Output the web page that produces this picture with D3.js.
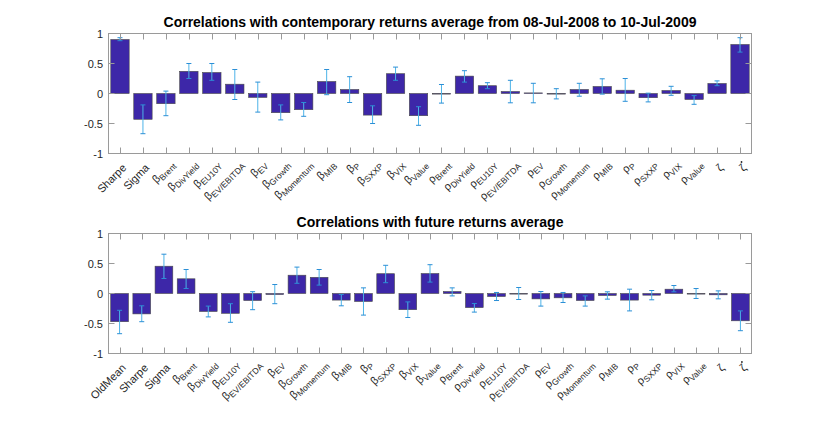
<!DOCTYPE html>
<html>
<head>
<meta charset="utf-8">
<script src="https://cdn.jsdelivr.net/npm/d3@7"></script>
<style>
  body { margin: 0; background: #fff; }
  text { font-family: "Liberation Sans", Arial, Helvetica, sans-serif; }
</style>
</head>
<body>
<svg id="chart" width="830" height="421"></svg>
<script>
"use strict";

// categories (a "_" splits symbol and subscript, a trailing "'" means a dot above)
var catsTop = ["Sharpe", "Sigma", "β_Brent", "β_DivYield", "β_EU10Y", "β_EV/EBITDA", "β_EV", "β_Growth",
  "β_Momentum", "β_MIB", "β_P", "β_SXXP", "β_VIX", "β_Value", "ρ_Brent", "ρ_DivYield", "ρ_EU10Y",
  "ρ_EV/EBITDA", "ρ_EV", "ρ_Growth", "ρ_Momentum", "ρ_MIB", "ρ_P", "ρ_SXXP", "ρ_VIX", "ρ_Value",
  "ζ", "ζ'"]
var catsBot = ["OldMean"].concat(catsTop)

// contemporary returns
var valsTop = [0.90, -0.43, -0.17, 0.37, 0.35, 0.155, -0.065, -0.32, -0.27, 0.20, 0.067, -0.36, 0.33, -0.37,
  -0.01, 0.29, 0.13, 0.033, 0.01, -0.005, 0.067, 0.117, 0.055, -0.07, 0.05, -0.10, 0.167, 0.817]
var loTop = [0.88, -0.67, -0.37, 0.25, 0.22, -0.10, -0.31, -0.44, -0.38, -0.02, -0.15, -0.50, 0.22, -0.53,
  -0.16, 0.19, 0.08, -0.155, -0.155, -0.09, -0.045, -0.01, -0.13, -0.14, -0.03, -0.18, 0.13, 0.69]
var hiTop = [0.93, -0.19, 0.04, 0.50, 0.50, 0.40, 0.19, -0.19, -0.15, 0.40, 0.28, -0.205, 0.44, -0.22,
  0.15, 0.38, 0.18, 0.22, 0.17, 0.08, 0.17, 0.245, 0.25, 0.005, 0.12, -0.035, 0.21, 0.93]

// future returns
var valsBot = [-0.47, -0.34, 0.455, 0.245, -0.30, -0.33, -0.117, -0.017, 0.305, 0.27, -0.11, -0.133, 0.33,
  -0.27, 0.333, 0.033, -0.235, -0.05, -0.005, -0.09, -0.072, -0.117, -0.033, -0.11, -0.028, 0.072, 0.0,
  -0.022, -0.455]
var loBot = [-0.67, -0.47, 0.25, 0.083, -0.39, -0.48, -0.27, -0.17, 0.17, 0.14, -0.205, -0.36, 0.18,
  -0.40, 0.19, -0.04, -0.31, -0.117, -0.10, -0.21, -0.15, -0.21, -0.094, -0.29, -0.105, 0.028, -0.083,
  -0.089, -0.62]
var hiBot = [-0.28, -0.205, 0.655, 0.40, -0.21, -0.17, 0.03, 0.15, 0.44, 0.40, -0.017, 0.094, 0.47,
  -0.14, 0.48, 0.094, -0.167, 0.017, 0.10, 0.033, 0.017, -0.04, 0.028, 0.072, 0.05, 0.133, 0.083,
  0.044, -0.29]

var yTicks = [-1, -0.5, 0, 0.5, 1]

var titleTop = "Correlations with contemporary returns average from 08-Jul-2008 to 10-Jul-2009"
var titleBot = "Correlations with future returns average"

var svg = d3.select("#chart")
var left = 108.5, right = 751.5, tickLen = 6
var axisColor = "#9a9a9a", textColor = "#262626"

/**
 * Writes one rotated category label, symbol + subscript, ending at the tick
 */
function catLabel(g, label, px, py) {
  var dot = label.endsWith("'")
  if (dot) label = label.slice(0, -1)
  var parts = label.split("_")
  if (parts.length > 1) { px += 2.5; py -= 3.5 } // TeX labels sit a bit further out
  var lg = g.append("g").attr("transform", "translate(" + px + "," + py + ") rotate(-45)")

  var main = lg.append("text").attr("font-size", 11).attr("fill", textColor).text(parts[0])
  var w1 = main.node().getComputedTextLength()
  var w2 = 0, sub = null
  if (parts.length > 1) {
    sub = lg.append("text").attr("font-size", 8.5).attr("fill", textColor).attr("y", 2.5).text(parts[1])
    w2 = sub.node().getComputedTextLength()
  }
  main.attr("x", -(w1 + w2))
  if (sub) sub.attr("x", -w2)
  if (dot) {
    // dot above the zeta, upright
    g.append("circle").attr("cx", px - 5.5).attr("cy", py - 6.5).attr("r", 0.9).attr("fill", textColor)
  }
}

/**
 * Draws one bar panel with error bars, box, ticks and rotated labels
 */
function drawPanel(top, bottom, cats, vals, lo, hi, title) {
  var g = svg.append("g")
  var idx = d3.range(cats.length)

  var x = d3.scaleBand().domain(idx).range([left, right]).paddingInner(0.2).paddingOuter(0.1)
  var y = d3.scaleLinear().domain([-1, 1]).range([bottom, top])
  var cx = i => x(i) + x.bandwidth() / 2

  // bars
  g.selectAll("rect.bar")
    .data(idx)
    .enter()
    .append("rect")
      .attr("class", "bar")
      .attr("x", i => x(i))
      .attr("width", x.bandwidth())
      .attr("y", i => y(Math.max(0, vals[i])))
      .attr("height", i => Math.max(0.6, Math.abs(y(vals[i]) - y(0))))
      .attr("fill", "#3d27a8")
      .attr("stroke", "#4a4a4a")
      .attr("stroke-width", 0.6)

  // error bars
  var eb = g.selectAll("g.err").data(idx).enter().append("g").attr("class", "err")
  eb.append("line")
    .attr("x1", i => cx(i)).attr("x2", i => cx(i))
    .attr("y1", i => y(lo[i])).attr("y2", i => y(hi[i]))
    .attr("stroke", "#4db3e8").attr("stroke-width", 1)
  eb.selectAll("line.cap")
    .data(i => [[i, lo[i]], [i, hi[i]]])
    .enter()
    .append("line")
      .attr("class", "cap")
      .attr("x1", d => cx(d[0]) - 2.5).attr("x2", d => cx(d[0]) + 2.5)
      .attr("y1", d => y(d[1])).attr("y2", d => y(d[1]))
      .attr("stroke", "#2b8fd6").attr("stroke-width", 1)

  // box
  g.append("rect")
    .attr("x", left).attr("y", top)
    .attr("width", right - left).attr("height", bottom - top)
    .attr("fill", "none").attr("stroke", axisColor).attr("stroke-width", 1)

  // x ticks top and bottom, inward
  idx.forEach(i => {
    var xi = Math.round(cx(i)) + 0.5
    g.append("line").attr("x1", xi).attr("x2", xi).attr("y1", bottom).attr("y2", bottom - tickLen)
      .attr("stroke", axisColor)
    g.append("line").attr("x1", xi).attr("x2", xi).attr("y1", top).attr("y2", top + tickLen)
      .attr("stroke", axisColor)
  })

  // y ticks left and right, inward, with labels
  yTicks.forEach(t => {
    var yi = y(t)
    g.append("line").attr("x1", left).attr("x2", left + tickLen).attr("y1", yi).attr("y2", yi)
      .attr("stroke", axisColor)
    g.append("line").attr("x1", right).attr("x2", right - tickLen).attr("y1", yi).attr("y2", yi)
      .attr("stroke", axisColor)
    g.append("text")
      .attr("x", 103).attr("y", yi + 4)
      .attr("text-anchor", "end")
      .attr("font-size", 11)
      .attr("fill", textColor)
      .text(t)
  })

  // rotated category labels
  idx.forEach(i => catLabel(g, cats[i], cx(i) + 7, bottom + 15))

  // title
  g.append("text")
    .attr("x", (left + right) / 2).attr("y", top - 6.5)
    .attr("text-anchor", "middle")
    .attr("font-size", 14)
    .attr("font-weight", "bold")
    .attr("fill", "#000")
    .text(title)
}

drawPanel(33.5, 153.5, catsTop, valsTop, loTop, hiTop, titleTop)
drawPanel(233.5, 353.5, catsBot, valsBot, loBot, hiBot, titleBot)
</script>
</body>
</html>
